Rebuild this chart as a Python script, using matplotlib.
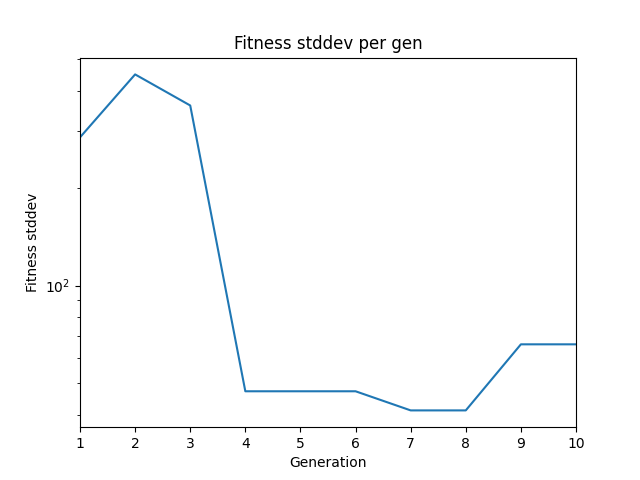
import matplotlib
matplotlib.use("Agg")
import matplotlib.pyplot as plt

gens = [1, 2, 3, 4, 5, 6, 7, 8, 9, 10]
stddev = [287, 449, 360, 47.2, 47.2, 47.2, 41.2, 41.2, 65.9, 65.9]

fig, ax = plt.subplots(figsize=(6.4, 4.8), dpi=100)
ax.plot(gens, stddev)
ax.set_yscale('log')
ax.set_xlim(1, 10)
ax.set_xticks(gens)
ax.set_title('Fitness stddev per gen')
ax.set_xlabel('Generation')
ax.set_ylabel('Fitness stddev')
fig.savefig('out.png')
